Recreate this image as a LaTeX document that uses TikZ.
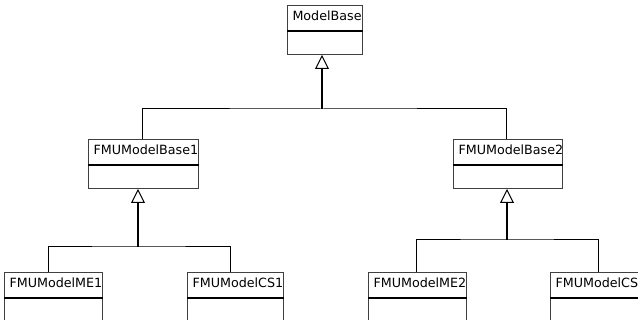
\documentclass[tikz,border=0pt]{standalone}
\usepackage{fontspec}
\setsansfont{DejaVu Sans}
\usetikzlibrary{arrows.meta}

\begin{document}
\begin{tikzpicture}
[
x=1pt, y=-1pt,
classname/.style={draw=black!75, line width=1pt, anchor=north west,
            text width=#1, align=left, inner xsep=5pt, inner ysep=6pt,
            text height=9.5pt, text depth=3.5pt,
            font=\sffamily\fontsize{12.7}{15}\selectfont},
classbody/.style={draw=black!75, line width=1pt, anchor=north west,
            minimum width=#1, minimum height=23pt, inner sep=0pt},
divider/.style={line width=2pt},
bus/.style={line width=1pt},
inherits/.style={line width=1.2pt,
            -{Triangle[open, width=14pt, length=14pt, line width=1pt]}},
]
\useasboundingbox (0,0) rectangle (638,320);
\clip (0,0) rectangle (638,320);

%Place the classes
\node[classname=65pt] (mb) at (287,5) {ModelBase};
\node[classbody=75pt] (mb-b) at (mb.south west) {};
\draw[divider] (mb.south west) -- (mb.south east);

\node[classname=100pt] (b1) at (88,139) {FMUModelBase1};
\node[classbody=110pt] (b1-b) at (b1.south west) {};
\draw[divider] (b1.south west) -- (b1.south east);

\node[classname=99pt] (b2) at (453,139) {FMUModelBase2};
\node[classbody=109pt] (b2-b) at (b2.south west) {};
\draw[divider] (b2.south west) -- (b2.south east);

\node[classname=88pt] (me1) at (4,272) {FMUModelME1};
\node[classbody=98pt] (me1-b) at (me1.south west) {};
\draw[divider] (me1.south west) -- (me1.south east);

\node[classname=86pt] (cs1) at (187,272) {FMUModelCS1};
\node[classbody=96pt] (cs1-b) at (cs1.south west) {};
\draw[divider] (cs1.south west) -- (cs1.south east);

\node[classname=88pt] (me2) at (368,272) {FMUModelME2};
\node[classbody=98pt] (me2-b) at (me2.south west) {};
\draw[divider] (me2.south west) -- (me2.south east);

\node[classname=86pt] (cs2) at (550,272) {FMUModelCS};
\node[classbody=96pt] (cs2-b) at (cs2.south west) {};
\draw[divider] (cs2.south west) -- (cs2.south east);

%Junctions of the inheritance trees
\coordinate (j0) at (322,109);
\coordinate (j1) at (138,247);
\coordinate (j2) at (507,240);

%Draw the generalisations
\draw[bus] ([xshift=-1pt]b1.north) |- (j0) -| ([xshift=-2pt]b2.north);
\draw[inherits] (j0) -- (j0 |- mb-b.south);

\draw[bus] ([xshift=44pt]me1.north west) |- (j1) -| ([xshift=43pt]cs1.north west);
\draw[inherits] (j1) -- (j1 |- b1-b.south);

\draw[bus] ([xshift=48pt]me2.north west) |- (j2) -| ([xshift=48pt]cs2.north west);
\draw[inherits] (j2) -- (j2 |- b2-b.south);
\end{tikzpicture}
\end{document}
